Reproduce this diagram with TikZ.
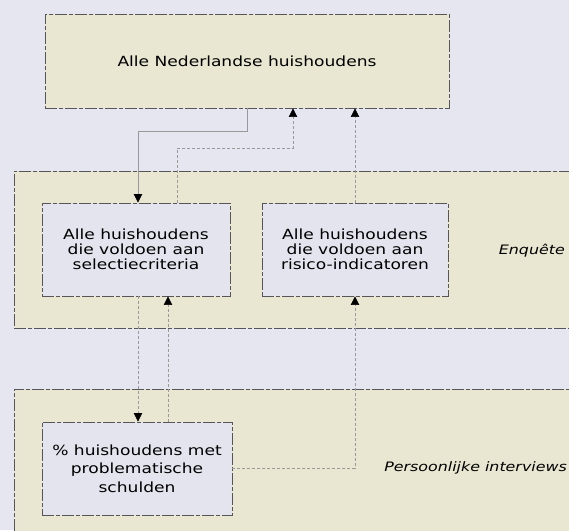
\documentclass[tikz,border=0pt]{standalone}
\usepackage{fontspec}
\setmainfont[FakeStretch=1.22]{DejaVu Sans}
\usetikzlibrary{arrows.meta}
\definecolor{bgcol}{RGB}{229,230,239}
\definecolor{beige}{RGB}{233,231,209}
\definecolor{boxcol}{RGB}{228,228,238}
\definecolor{edgecol}{RGB}{85,85,90}
\tikzset{
  edgeline/.style={draw=edgecol, line width=0.9pt, dash pattern=on 12pt off 2pt on 4pt off 2pt},
  bandbox/.style={edgeline, fill=beige, inner sep=0pt},
  topbox/.style={edgeline, fill=beige, inner sep=0pt, minimum width=404pt, minimum height=94pt},
  innerbox/.style={edgeline, fill=boxcol, inner sep=0pt, minimum height=93pt, align=center,
    font=\fontsize{14pt}{15pt}\selectfont},
  lbl/.style={anchor=east, inner sep=0pt, font=\fontsize{13pt}{14pt}\selectfont\itshape},
  tip/.style={-{Triangle[width=8.5pt,length=8.5pt,color=black,fill=black]}},
  conn/.style={draw=black!40, line width=0.7pt, dash pattern=on 3pt off 2pt, tip},
  connsolid/.style={draw=black!40, line width=0.8pt, tip},
}
\begin{document}
\begin{tikzpicture}[x=1pt,y=-1pt]
\useasboundingbox (0,0) rectangle (569,530);
\fill[bgcol] (0,0) rectangle (569,530);
% bands
\node[bandbox, minimum width=570pt, minimum height=157pt, anchor=north west] (band1) at (14,171) {};
\node[bandbox, minimum width=570pt, minimum height=150pt, anchor=north west] (band2) at (14,389) {};
% boxes
\node[topbox, font=\fontsize{14pt}{15pt}\selectfont] (top) at (247,61) {Alle Nederlandse huishoudens};
\node[innerbox, minimum width=188pt] (A) at (136,249.5) {Alle huishoudens\\die voldoen aan\\selectiecriteria};
\node[innerbox, minimum width=186pt] (B) at (355,249.5) {Alle huishoudens\\die voldoen aan\\risico-indicatoren};
\node[innerbox, minimum width=190pt, font=\fontsize{14pt}{18.5pt}\selectfont] (C) at (137,468.5) {\% huishoudens met\\problematische\\schulden};
% labels
\node[lbl] (l1) at (565,251) {Enquête};
\node[lbl] (l2) at (567,468) {Persoonlijke interviews};
% helper coordinates
\coordinate (c1) at (138,131);
\coordinate (c2) at (177,148);
\coordinate (c3) at (293,148);
\coordinate (c5) at (168,400);
% connectors
\draw[connsolid] (top.south) |- (c1) -- (c1 |- A.north);
\draw[conn] (c2 |- A.north) -- (c2) -- (c3) -- (c3 |- top.south);
\draw[conn] (B.north) -- (B.north |- top.south);
\draw[conn] (c1 |- A.south) -- (c1 |- C.north);
\draw[conn] (c5 |- C.north) -- (c5 |- A.south);
\draw[conn] (C.east) -| (B.south);
\end{tikzpicture}
\end{document}
